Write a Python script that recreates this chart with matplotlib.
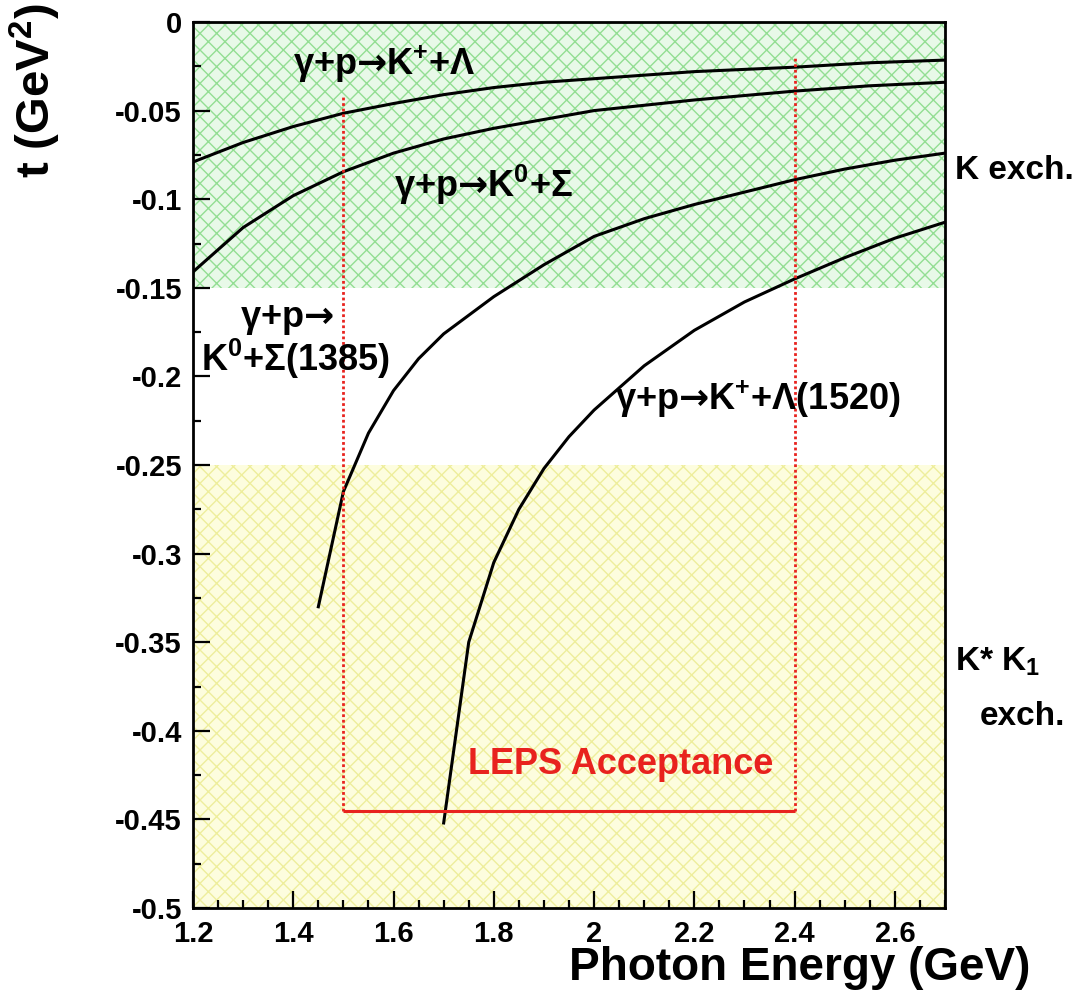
import matplotlib
matplotlib.use('Agg')
import matplotlib.pyplot as plt
from matplotlib.ticker import MultipleLocator

plt.rcParams['font.family'] = ['Liberation Sans', 'DejaVu Sans']
plt.rcParams['font.weight'] = 'bold'
plt.rcParams['mathtext.fontset'] = 'custom'
for k in ['rm', 'it', 'bf']:
    plt.rcParams['mathtext.' + k] = 'Liberation Sans:bold'
plt.rcParams['mathtext.sf'] = 'DejaVu Sans:bold'
plt.rcParams['hatch.linewidth'] = 1.0

# ---- data ----
e_klam = [1.2, 1.3, 1.4, 1.5, 1.6, 1.7, 1.8, 1.9, 2.0, 2.2, 2.4, 2.55, 2.7]
t_klam = [-0.079, -0.068, -0.059, -0.0515, -0.046, -0.041, -0.037, -0.034,
          -0.032, -0.028, -0.0255, -0.023, -0.0215]

e_k0sig = [1.2, 1.3, 1.4, 1.5, 1.6, 1.7, 1.8, 1.9, 2.0, 2.2, 2.4, 2.55, 2.7]
t_k0sig = [-0.141, -0.116, -0.098, -0.0845, -0.074, -0.066, -0.060, -0.055,
           -0.050, -0.044, -0.039, -0.036, -0.034]

e_k0sig1385 = [1.45, 1.5, 1.55, 1.6, 1.65, 1.7, 1.8, 1.9, 2.0, 2.1, 2.2, 2.3,
               2.4, 2.5, 2.6, 2.7]
t_k0sig1385 = [-0.330, -0.265, -0.232, -0.208, -0.190, -0.176, -0.155, -0.137,
               -0.121, -0.111, -0.103, -0.096, -0.089, -0.083, -0.078, -0.074]

e_klam1520 = [1.70, 1.75, 1.8, 1.85, 1.9, 1.95, 2.0, 2.1, 2.2, 2.3, 2.4, 2.5,
              2.6, 2.7]
t_klam1520 = [-0.452, -0.350, -0.305, -0.275, -0.252, -0.234, -0.219, -0.194,
              -0.174, -0.158, -0.145, -0.133, -0.122, -0.113]

k_exch_band = [-0.15, 0.0]
kstar_band = [-0.5, -0.25]

leps_e = [1.5, 2.4]
leps_t_bottom = -0.445
leps_t_top = [-0.041, -0.0198]

x_ticks = [1.2, 1.4, 1.6, 1.8, 2.0, 2.2, 2.4, 2.6]
x_ticklabels = ['1.2', '1.4', '1.6', '1.8', '2', '2.2', '2.4', '2.6']
y_ticks = [0, -0.05, -0.1, -0.15, -0.2, -0.25, -0.3, -0.35, -0.4, -0.45, -0.5]
y_ticklabels = ['0', '-0.05', '-0.1', '-0.15', '-0.2', '-0.25', '-0.3', '-0.35',
                '-0.4', '-0.45', '-0.5']

RED = '#e8221e'
ARROW = r'$\mathsf{→}$'

fig = plt.figure(figsize=(10.82, 10.0), dpi=100)
ax = fig.add_axes([193 / 1082, 1 - 908 / 1000, (945 - 193) / 1082, (908 - 22) / 1000])
ax.set_xlim(1.2, 2.7)
ax.set_ylim(-0.5, 0.0)

ax.axhspan(k_exch_band[0], k_exch_band[1], facecolor='#e8f9e8', edgecolor='#93de93',
           hatch='xx', linewidth=0, zorder=0)
ax.axhspan(kstar_band[0], kstar_band[1], facecolor='#fdfdde', edgecolor='#eeee9c',
           hatch='xx', linewidth=0, zorder=0)

lw = 2.2
ax.plot(e_klam, t_klam, color='black', lw=lw, zorder=3)
ax.plot(e_k0sig, t_k0sig, color='black', lw=lw, zorder=3)
ax.plot(e_k0sig1385, t_k0sig1385, color='black', lw=lw, zorder=3)
ax.plot(e_klam1520, t_klam1520, color='black', lw=lw, zorder=3)

# LEPS acceptance
ax.plot(leps_e, [leps_t_bottom, leps_t_bottom], color=RED, lw=2.2, zorder=4,
        solid_capstyle='butt')
for e, tt in zip(leps_e, leps_t_top):
    ax.plot([e, e], [leps_t_bottom, tt], color=RED, lw=2.0, ls=(0, (1, 1)), zorder=4)

fs_lab = 26
ax.text(1.40, -0.024, 'γ+p' + ARROW + 'K$^{+}$+Λ', fontsize=fs_lab, ha='left',
        va='center', zorder=5)
ax.text(1.60, -0.092, 'γ+p' + ARROW + 'K$^{0}$+Σ', fontsize=fs_lab, ha='left',
        va='center', zorder=5)
ax.text(1.294, -0.168, 'γ+p' + ARROW, fontsize=fs_lab, ha='left', va='center', zorder=5)
ax.text(1.215, -0.190, 'K$^{0}$+Σ(1385)', fontsize=fs_lab, ha='left', va='center',
        zorder=5)
ax.text(2.042, -0.213, 'γ+p' + ARROW + 'K$^{+}$+Λ(1520)', fontsize=fs_lab, ha='left',
        va='center', zorder=5)
ax.text(1.749, -0.419, 'LEPS Acceptance', fontsize=fs_lab, color=RED, ha='left',
        va='center', zorder=5)

ax.text(2.72, -0.084, 'K exch.', fontsize=24, ha='left', va='center', clip_on=False)
ax.text(2.72, -0.361, 'K* K$_{1}$', fontsize=24, ha='left', va='center', clip_on=False)
ax.text(2.77, -0.392, 'exch.', fontsize=24, ha='left', va='center', clip_on=False)

ax.set_xticks(x_ticks)
ax.set_xticklabels(x_ticklabels)
ax.set_yticks(y_ticks)
ax.set_yticklabels(y_ticklabels)
ax.xaxis.set_minor_locator(MultipleLocator(0.05))
ax.yaxis.set_minor_locator(MultipleLocator(0.025))
ax.tick_params(axis='both', which='both', direction='in', top=False, right=False,
               labelsize=21, width=1.6)
ax.tick_params(axis='both', which='major', length=12)
ax.tick_params(axis='both', which='minor', length=6)
ax.tick_params(axis='x', pad=9)
ax.tick_params(axis='y', pad=8)
for s in ax.spines.values():
    s.set_linewidth(2.0)

fig.text(1030 / 1082, 1 - 968 / 1000, 'Photon Energy (GeV)', fontsize=33,
         ha='right', va='center')
fig.text(35 / 1082, 0.997, 't (GeV$^{2}$)', fontsize=34, rotation=90,
         ha='center', va='top')

fig.savefig('out.png', dpi=100)
